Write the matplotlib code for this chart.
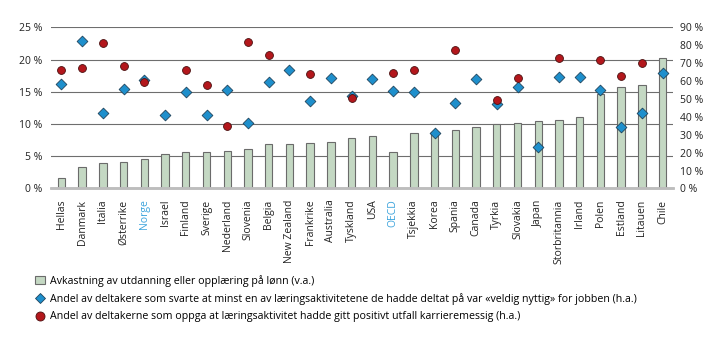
import numpy as np
import matplotlib.pyplot as plt
from matplotlib.lines import Line2D
from matplotlib.patches import Patch

countries = [
    "Hellas", "Danmark", "Italia", "Østerrike", "Norge", "Israel", "Finland",
    "Sverige", "Nederland", "Slovenia", "Belgia", "New Zealand", "Frankrike",
    "Australia", "Tyskland", "USA", "OECD", "Tsjekkia", "Korea", "Spania",
    "Canada", "Tyrkia", "Slovakia", "Japan", "Storbritannia", "Irland",
    "Polen", "Estland", "Litauen", "Chile",
]
# avkastning på lønn, venstre akse (%)
returns = [
    1.6, 3.3, 3.9, 4.05, 4.5, 5.3, 5.6, 5.6, 5.75, 6.07, 6.85, 6.95, 7.0,
    7.25, 7.85, 8.1, 5.6, 8.55, 8.8, 9.0, 9.5, 9.95, 10.1, 10.4, 10.55,
    11.1, 14.6, 15.8, 16.1, 20.25,
]
# andel «veldig nyttig», høyre akse (%)
useful = [
    58.4, 82.2, 41.9, 55.3, 60.6, 40.8, 53.6, 40.8, 54.9, 36.5, 59.4, 66.2,
    48.8, 61.6, 51.6, 61.0, 54.7, 53.6, 30.8, 47.8, 61.4, 47.1, 56.4, 23.3,
    62.0, 62.5, 54.9, 34.1, 42.1, 64.4,
]
# andel positivt utfall karrieremessig, høyre akse (%)
career = [
    65.9, 67.2, 81.5, 68.5, 59.5, np.nan, 66.1, 57.7, 34.7, 81.7, 74.6, np.nan,
    63.7, np.nan, 50.6, np.nan, 64.4, 66.1, np.nan, 77.6, np.nan, 49.3, 61.8,
    np.nan, 73.1, np.nan, 72.0, 62.9, 70.0, np.nan,
]
highlight = ["Norge", "OECD"]

BAR = "#c4d8c3"
BLUE = "#1e8fcc"
RED = "#b3171c"
HL = "#3ba3dc"

plt.rcParams["font.family"] = ["Open Sans", "DejaVu Sans"]
plt.rcParams["font.size"] = 7.5

fig = plt.figure(figsize=(7.23, 3.41), dpi=100)
ax = fig.add_axes([51 / 723, 1 - 188.5 / 341, 622 / 723, 161.2 / 341])
ax2 = ax.twinx()

x = np.arange(len(countries))
ax.bar(x, returns, width=0.36, color=BAR, edgecolor="#6b6b6b", linewidth=0.8, zorder=2)
ax.set_ylim(0, 25)
ax.set_xlim(-0.5, len(countries) - 0.5)
ax.set_yticks(range(0, 26, 5))
ax.set_yticklabels([f"{v} %" for v in range(0, 26, 5)])
ax.grid(axis="y", color="#6e6e6e", linewidth=0.8, zorder=0)
ax.set_axisbelow(True)

ax2.scatter(x, useful, marker="D", s=30, color=BLUE, edgecolor="#20445c",
            linewidth=0.6, zorder=3)
ax2.scatter(x, career, marker="o", s=32, color=RED, edgecolor="#4a1010",
            linewidth=0.6, zorder=4)
ax2.set_ylim(0, 90)
ax2.set_yticks(range(0, 91, 10))
ax2.set_yticklabels([f"{v} %" for v in range(0, 91, 10)])

ax.set_zorder(ax2.get_zorder() - 1)
ax.patch.set_visible(False)
ax2.set_zorder(1)

for a in (ax, ax2):
    for s in ("top", "left", "right"):
        a.spines[s].set_visible(False)
    a.spines["bottom"].set_color("#bdbdbd")
    a.spines["bottom"].set_linewidth(1.8)
    a.tick_params(length=0, colors="#222222")
ax.tick_params(axis="y", pad=6.5)
ax2.tick_params(axis="y", pad=5)

ax.set_xticks(x)
ax.set_xticklabels(countries, rotation=90, va="top", ha="center")
ax.tick_params(axis="x", pad=8)
for lab in ax.get_xticklabels():
    if lab.get_text() in highlight:
        lab.set_color(HL)

handles = [
    Patch(facecolor=BAR, edgecolor="#6b6b6b", linewidth=0.8),
    Line2D([], [], marker="D", linestyle="", color=BLUE, markeredgecolor="#20445c",
           markersize=5.5, markeredgewidth=0.6),
    Line2D([], [], marker="o", linestyle="", color=RED, markeredgecolor="#4a1010",
           markersize=6.5, markeredgewidth=0.6),
]
labels = [
    "Avkastning av utdanning eller opplæring på lønn (v.a.)",
    "Andel av deltakere som svarte at minst en av læringsaktivitetene de hadde deltat på var «veldig nyttig» for jobben (h.a.)",
    "Andel av deltakerne som oppga at læringsaktivitet hadde gitt positivt utfall karrieremessig (h.a.)",
]
fig.legend(handles, labels, loc="upper left", bbox_to_anchor=(0.042, 0.207),
           frameon=False, handlelength=1.0, handletextpad=0.4,
           labelspacing=0.6, borderaxespad=0, fontsize=7.7)

fig.savefig("out.png", dpi=100)
